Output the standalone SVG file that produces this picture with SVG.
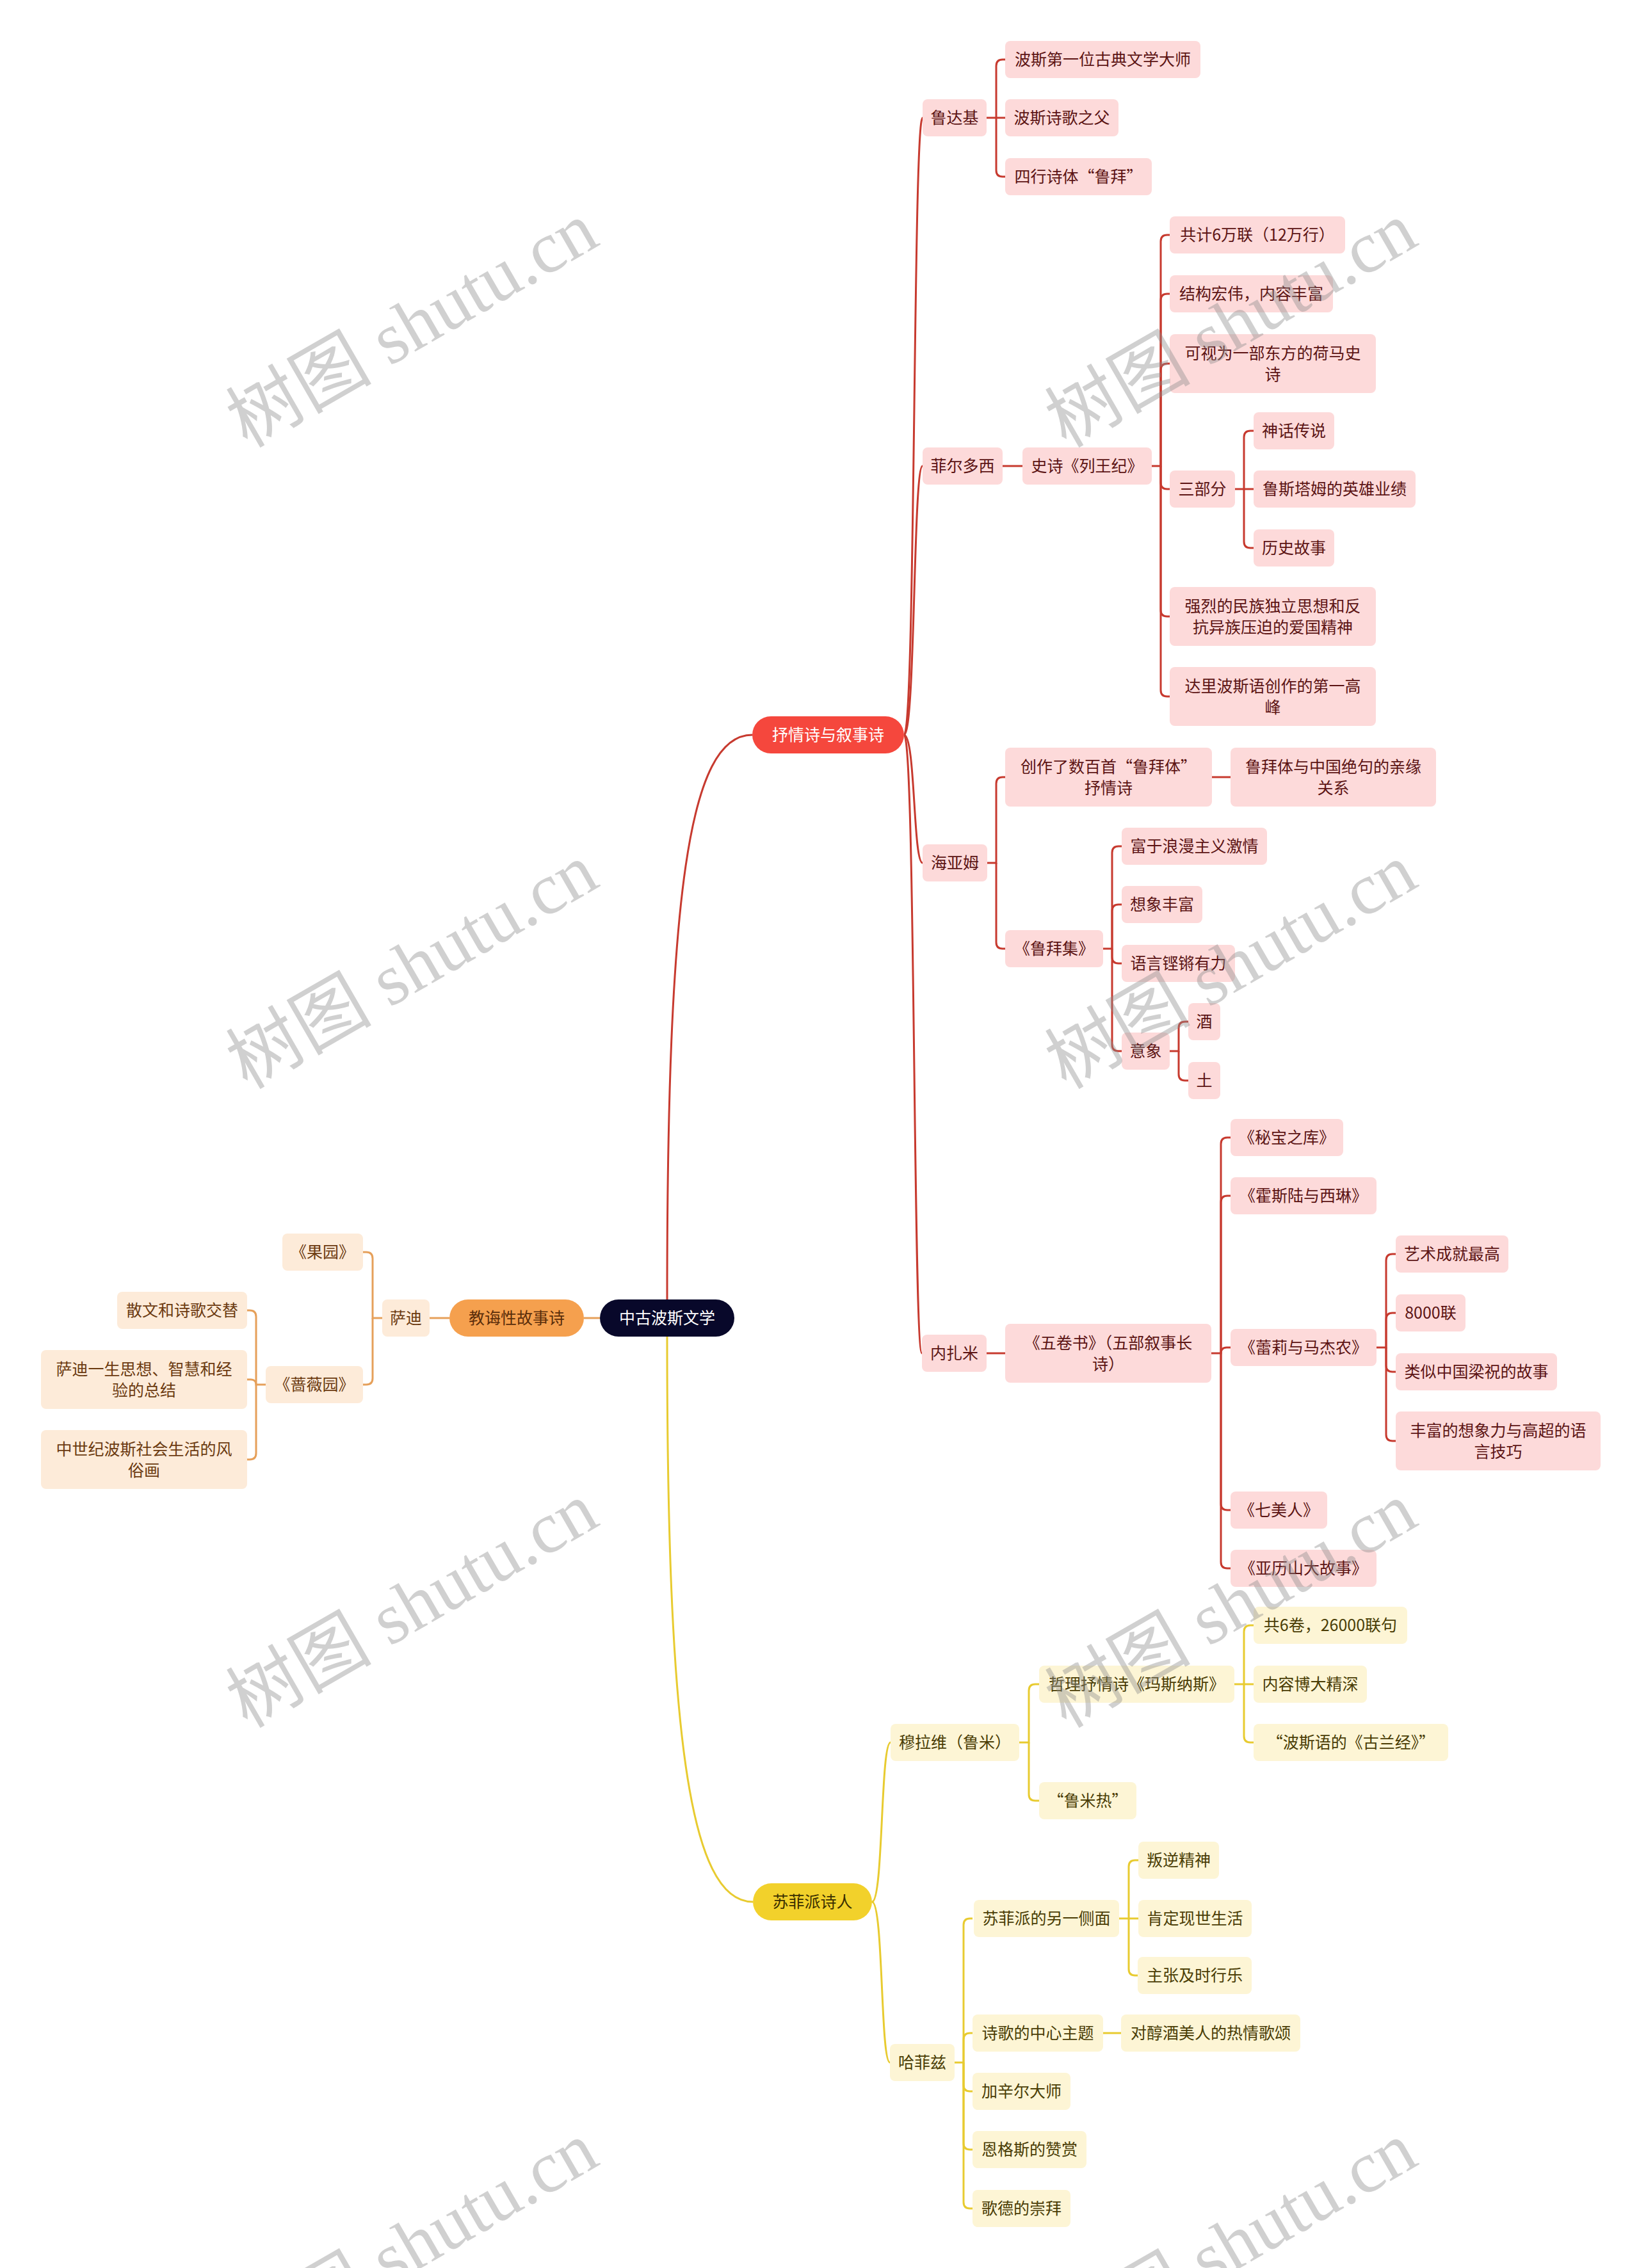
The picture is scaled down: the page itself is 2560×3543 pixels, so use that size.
<svg xmlns="http://www.w3.org/2000/svg" width="2560" height="3543" viewBox="0 0 2560 3543">
<style>
text{font-family:"Noto Sans CJK SC","Noto Sans",sans-serif;font-size:25px;text-anchor:middle}
.rn{fill:#fddada}.rt{fill:#5c1414}
.on{fill:#fdebd9}.ot{fill:#6b3a10}
.yn{fill:#fdf5d5}.yt{fill:#4a3d05}
.rl{fill:none;stroke:#c73a2f;stroke-width:3}
.ol{fill:none;stroke:#e6a05a;stroke-width:3}
.yl{fill:none;stroke:#e8cb30;stroke-width:3}
.wm{font-family:"Liberation Serif","Noto Sans CJK SC",serif;font-size:114px;fill:#8c8c8c;opacity:0.4}
</style>
<rect width="2560" height="3543" fill="#ffffff"/>
<g id="connectors">
<path class="rl" stroke-width="2.5" d="M1042,2030 C1042,1400 1075,1148 1175,1148"/>
<path class="yl" stroke-width="2.5" d="M1042,2088 C1042,2700 1075,2971 1176,2971"/>
<path class="ol" d="M937,2059 H912"/>
<path class="rl" stroke-width="2.5" d="M1412,1148 C1430,1148 1426,184 1441,184"/>
<path class="rl" stroke-width="2.5" d="M1412,1148 C1430,1148 1426,728 1441,728"/>
<path class="rl" stroke-width="2.5" d="M1412,1148 C1430,1148 1426,1348 1441,1348"/>
<path class="rl" stroke-width="2.5" d="M1412,1148 C1430,1148 1426,2114 1440,2114"/>
<path class="yl" stroke-width="2.5" d="M1362,2971 C1380,2971 1375,2722 1391,2722"/>
<path class="yl" stroke-width="2.5" d="M1362,2971 C1380,2971 1375,3222 1390,3222"/>
<path class="rl" d="M1541,184 H1570"/>
<path class="rl" d="M1556,184 V103 Q1556,93 1566,93 H1570"/>
<path class="rl" d="M1556,184 V266 Q1556,276 1566,276 H1570"/>
<path class="rl" d="M1566,728 H1597"/>
<path class="rl" d="M1799,728 H1813 V377 Q1813,367 1823,367 H1827"/>
<path class="rl" d="M1813,728 V469 Q1813,459 1823,459 H1827"/>
<path class="rl" d="M1813,728 V578 Q1813,568 1823,568 H1827"/>
<path class="rl" d="M1813,728 V754 Q1813,764 1823,764 H1827"/>
<path class="rl" d="M1813,728 V953 Q1813,963 1823,963 H1827"/>
<path class="rl" d="M1813,728 V1078 Q1813,1088 1823,1088 H1827"/>
<path class="rl" d="M1929,764 H1958"/>
<path class="rl" d="M1943,764 V683 Q1943,673 1953,673 H1958"/>
<path class="rl" d="M1943,764 V846 Q1943,856 1953,856 H1958"/>
<path class="rl" d="M1542,1348 H1556 V1224 Q1556,1214 1566,1214 H1570"/>
<path class="rl" d="M1556,1348 V1472 Q1556,1482 1566,1482 H1570"/>
<path class="rl" d="M1893,1214 H1922"/>
<path class="rl" d="M1723,1482 H1737 V1332 Q1737,1322 1747,1322 H1752"/>
<path class="rl" d="M1737,1482 V1423 Q1737,1413 1747,1413 H1752"/>
<path class="rl" d="M1737,1482 V1495 Q1737,1505 1747,1505 H1752"/>
<path class="rl" d="M1737,1482 V1632 Q1737,1642 1747,1642 H1752"/>
<path class="rl" d="M1827,1642 H1841 V1606 Q1841,1596 1851,1596 H1856"/>
<path class="rl" d="M1841,1642 V1678 Q1841,1688 1851,1688 H1856"/>
<path class="rl" d="M1541,2114 H1570"/>
<path class="rl" d="M1892,2114 H1907 V1787 Q1907,1777 1917,1777 H1922"/>
<path class="rl" d="M1907,2114 V1878 Q1907,1868 1917,1868 H1922"/>
<path class="rl" d="M1907,2114 C1907,2108 1910,2105 1916,2105 H1922"/>
<path class="rl" d="M1907,2114 V2349 Q1907,2359 1917,2359 H1922"/>
<path class="rl" d="M1907,2114 V2440 Q1907,2450 1917,2450 H1922"/>
<path class="rl" d="M2150,2105 H2165 V1969 Q2165,1959 2175,1959 H2180"/>
<path class="rl" d="M2165,2105 V2061 Q2165,2051 2175,2051 H2180"/>
<path class="rl" d="M2165,2105 V2133 Q2165,2143 2175,2143 H2180"/>
<path class="rl" d="M2165,2105 V2241 Q2165,2251 2175,2251 H2180"/>
<path class="ol" d="M702,2059 H671"/>
<path class="ol" d="M597,2059 H582 V1966 Q582,1956 572,1956 H567"/>
<path class="ol" d="M582,2059 V2153 Q582,2163 572,2163 H567"/>
<path class="ol" d="M415,2163 H400 V2057 Q400,2047 390,2047 H386"/>
<path class="ol" d="M400,2163 C400,2158 397,2155 392,2155 H386"/>
<path class="ol" d="M400,2163 V2270 Q400,2280 390,2280 H386"/>
<path class="yl" d="M1592,2722 H1607 V2641 Q1607,2631 1617,2631 H1623"/>
<path class="yl" d="M1607,2722 V2803 Q1607,2813 1617,2813 H1623"/>
<path class="yl" d="M1928,2631 H1958"/>
<path class="yl" d="M1943,2631 V2549 Q1943,2539 1953,2539 H1958"/>
<path class="yl" d="M1943,2631 V2712 Q1943,2722 1953,2722 H1958"/>
<path class="yl" d="M1491,3222 H1505 V3007 Q1505,2997 1515,2997 H1519"/>
<path class="yl" d="M1505,3222 V3186 Q1505,3176 1515,3176 H1519"/>
<path class="yl" d="M1505,3222 V3257 Q1505,3267 1515,3267 H1519"/>
<path class="yl" d="M1505,3222 V3348 Q1505,3358 1515,3358 H1519"/>
<path class="yl" d="M1505,3222 V3440 Q1505,3450 1515,3450 H1519"/>
<path class="yl" d="M1748,2997 H1778"/>
<path class="yl" d="M1763,2997 V2916 Q1763,2906 1773,2906 H1778"/>
<path class="yl" d="M1763,2997 V3076 Q1763,3086 1773,3086 H1777"/>
<path class="yl" d="M1723,3176 H1751"/>
</g>
<g id="root"><rect x="937" y="2030" width="210" height="58" rx="29" fill="#08082a"/><text x="1042" y="2068" fill="#ffffff">中古波斯文学</text></g>
<g id="b-lyric"><rect x="1175" y="1119" width="237" height="58" rx="29" fill="#f5473d"/><text x="1293.5" y="1157" fill="#ffffff">抒情诗与叙事诗</text></g>
<g id="b-didactic"><rect x="702" y="2030" width="210" height="58" rx="29" fill="#f5a04e"/><text x="807" y="2068" fill="#5a2d0a">教诲性故事诗</text></g>
<g id="b-sufi"><rect x="1176" y="2942" width="186" height="58" rx="29" fill="#f2d12b"/><text x="1269" y="2980" fill="#3a2f00">苏菲派诗人</text></g>

<g id="n-rudaki"><rect class="rn" x="1441" y="155" width="100" height="58" rx="8"/><text class="rt" x="1491" y="193">鲁达基</text></g>
<g id="n-rudaki-1"><rect class="rn" x="1570" y="64" width="305" height="58" rx="8"/><text class="rt" x="1722.5" y="102">波斯第一位古典文学大师</text></g>
<g id="n-rudaki-2"><rect class="rn" x="1570" y="155" width="177" height="58" rx="8"/><text class="rt" x="1658.5" y="193">波斯诗歌之父</text></g>
<g id="n-rudaki-3"><rect class="rn" x="1570" y="247" width="229" height="58" rx="8"/><text class="rt" x="1684.5" y="285">四行诗体“鲁拜”</text></g>
<g id="n-ferdowsi"><rect class="rn" x="1441" y="699" width="125" height="58" rx="8"/><text class="rt" x="1503.5" y="737">菲尔多西</text></g>
<g id="n-shahnameh"><rect class="rn" x="1597" y="699" width="202" height="58" rx="8"/><text class="rt" x="1698" y="737">史诗《列王纪》</text></g>
<g id="n-sh-1"><rect class="rn" x="1827" y="338" width="274" height="58" rx="8"/><text class="rt" x="1964" y="376">共计6万联（12万行）</text></g>
<g id="n-sh-2"><rect class="rn" x="1827" y="430" width="255" height="58" rx="8"/><text class="rt" x="1954.5" y="468">结构宏伟，内容丰富</text></g>
<g id="n-sh-3"><rect class="rn" x="1827" y="522" width="322" height="92" rx="8"/><text class="rt" x="1988" y="560.5">可视为一部东方的荷马史</text><text class="rt" x="1988" y="593.5">诗</text></g>
<g id="n-sh-4"><rect class="rn" x="1827" y="735" width="102" height="58" rx="8"/><text class="rt" x="1878" y="773">三部分</text></g>
<g id="n-sh-4a"><rect class="rn" x="1958" y="644" width="126" height="58" rx="8"/><text class="rt" x="2021" y="682">神话传说</text></g>
<g id="n-sh-4b"><rect class="rn" x="1958" y="735" width="253" height="58" rx="8"/><text class="rt" x="2084.5" y="773">鲁斯塔姆的英雄业绩</text></g>
<g id="n-sh-4c"><rect class="rn" x="1958" y="827" width="126" height="58" rx="8"/><text class="rt" x="2021" y="865">历史故事</text></g>
<g id="n-sh-5"><rect class="rn" x="1827" y="917" width="322" height="92" rx="8"/><text class="rt" x="1988" y="955.5">强烈的民族独立思想和反</text><text class="rt" x="1988" y="988.5">抗异族压迫的爱国精神</text></g>
<g id="n-sh-6"><rect class="rn" x="1827" y="1042" width="322" height="92" rx="8"/><text class="rt" x="1988" y="1080.5">达里波斯语创作的第一高</text><text class="rt" x="1988" y="1113.5">峰</text></g>
<g id="n-khayyam"><rect class="rn" x="1441" y="1319" width="101" height="58" rx="8"/><text class="rt" x="1491.5" y="1357">海亚姆</text></g>
<g id="n-kh-1"><rect class="rn" x="1570" y="1168" width="323" height="92" rx="8"/><text class="rt" x="1731.5" y="1206.5">创作了数百首“鲁拜体”</text><text class="rt" x="1731.5" y="1239.5">抒情诗</text></g>
<g id="n-kh-1a"><rect class="rn" x="1922" y="1168" width="321" height="92" rx="8"/><text class="rt" x="2082.5" y="1206.5">鲁拜体与中国绝句的亲缘</text><text class="rt" x="2082.5" y="1239.5">关系</text></g>
<g id="n-kh-2"><rect class="rn" x="1570" y="1453" width="153" height="58" rx="8"/><text class="rt" x="1646.5" y="1491">《鲁拜集》</text></g>
<g id="n-kh-2a"><rect class="rn" x="1752" y="1293" width="227" height="58" rx="8"/><text class="rt" x="1865.5" y="1331">富于浪漫主义激情</text></g>
<g id="n-kh-2b"><rect class="rn" x="1752" y="1384" width="126" height="58" rx="8"/><text class="rt" x="1815" y="1422">想象丰富</text></g>
<g id="n-kh-2c"><rect class="rn" x="1752" y="1476" width="177" height="58" rx="8"/><text class="rt" x="1840.5" y="1514">语言铿锵有力</text></g>
<g id="n-kh-2d"><rect class="rn" x="1752" y="1613" width="75" height="58" rx="8"/><text class="rt" x="1789.5" y="1651">意象</text></g>
<g id="n-kh-2d1"><rect class="rn" x="1856" y="1567" width="50" height="58" rx="8"/><text class="rt" x="1881" y="1605">酒</text></g>
<g id="n-kh-2d2"><rect class="rn" x="1856" y="1659" width="50" height="58" rx="8"/><text class="rt" x="1881" y="1697">土</text></g>
<g id="n-nezami"><rect class="rn" x="1440" y="2085" width="101" height="58" rx="8"/><text class="rt" x="1490.5" y="2123">内扎米</text></g>
<g id="n-khamsa"><rect class="rn" x="1570" y="2068" width="322" height="92" rx="8"/><text class="rt" x="1731" y="2106.5">《五卷书》（五部叙事长</text><text class="rt" x="1731" y="2139.5">诗）</text></g>
<g id="n-kha-1"><rect class="rn" x="1922" y="1748" width="176" height="58" rx="8"/><text class="rt" x="2010" y="1786">《秘宝之库》</text></g>
<g id="n-kha-2"><rect class="rn" x="1922" y="1839" width="228" height="58" rx="8"/><text class="rt" x="2036" y="1877">《霍斯陆与西琳》</text></g>
<g id="n-kha-3"><rect class="rn" x="1922" y="2076" width="228" height="58" rx="8"/><text class="rt" x="2036" y="2114">《蕾莉与马杰农》</text></g>
<g id="n-kha-3a"><rect class="rn" x="2180" y="1930" width="176" height="58" rx="8"/><text class="rt" x="2268" y="1968">艺术成就最高</text></g>
<g id="n-kha-3b"><rect class="rn" x="2180" y="2022" width="109" height="58" rx="8"/><text class="rt" x="2234.5" y="2060">8000联</text></g>
<g id="n-kha-3c"><rect class="rn" x="2180" y="2114" width="252" height="58" rx="8"/><text class="rt" x="2306" y="2152">类似中国梁祝的故事</text></g>
<g id="n-kha-3d"><rect class="rn" x="2180" y="2205" width="320" height="92" rx="8"/><text class="rt" x="2340" y="2243.5">丰富的想象力与高超的语</text><text class="rt" x="2340" y="2276.5">言技巧</text></g>
<g id="n-kha-4"><rect class="rn" x="1922" y="2330" width="151" height="58" rx="8"/><text class="rt" x="1997.5" y="2368">《七美人》</text></g>
<g id="n-kha-5"><rect class="rn" x="1922" y="2421" width="228" height="58" rx="8"/><text class="rt" x="2036" y="2459">《亚历山大故事》</text></g>

<g id="n-saadi"><rect class="on" x="597" y="2030" width="74" height="58" rx="8"/><text class="ot" x="634" y="2068">萨迪</text></g>
<g id="n-bustan"><rect class="on" x="441" y="1927" width="126" height="58" rx="8"/><text class="ot" x="504" y="1965">《果园》</text></g>
<g id="n-gulistan"><rect class="on" x="415" y="2134" width="152" height="58" rx="8"/><text class="ot" x="491" y="2172">《蔷薇园》</text></g>
<g id="n-gul-1"><rect class="on" x="183" y="2018" width="203" height="58" rx="8"/><text class="ot" x="284.5" y="2056">散文和诗歌交替</text></g>
<g id="n-gul-2"><rect class="on" x="64" y="2109" width="322" height="92" rx="8"/><text class="ot" x="225" y="2147.5">萨迪一生思想、智慧和经</text><text class="ot" x="225" y="2180.5">验的总结</text></g>
<g id="n-gul-3"><rect class="on" x="64" y="2234" width="322" height="92" rx="8"/><text class="ot" x="225" y="2272.5">中世纪波斯社会生活的风</text><text class="ot" x="225" y="2305.5">俗画</text></g>

<g id="n-rumi"><rect class="yn" x="1391" y="2693" width="201" height="58" rx="8"/><text class="yt" x="1491.5" y="2731">穆拉维（鲁米）</text></g>
<g id="n-masnavi"><rect class="yn" x="1623" y="2602" width="305" height="58" rx="8"/><text class="yt" x="1775.5" y="2640">哲理抒情诗《玛斯纳斯》</text></g>
<g id="n-mas-1"><rect class="yn" x="1958" y="2510" width="240" height="58" rx="8"/><text class="yt" x="2078" y="2548">共6卷，26000联句</text></g>
<g id="n-mas-2"><rect class="yn" x="1958" y="2602" width="177" height="58" rx="8"/><text class="yt" x="2046.5" y="2640">内容博大精深</text></g>
<g id="n-mas-3"><rect class="yn" x="1958" y="2693" width="304" height="58" rx="8"/><text class="yt" x="2110" y="2731">“波斯语的《古兰经》”</text></g>
<g id="n-rumi-fever"><rect class="yn" x="1623" y="2784" width="152" height="58" rx="8"/><text class="yt" x="1699" y="2822">“鲁米热”</text></g>
<g id="n-hafez"><rect class="yn" x="1390" y="3193" width="101" height="58" rx="8"/><text class="yt" x="1440.5" y="3231">哈菲兹</text></g>
<g id="n-haf-1"><rect class="yn" x="1521" y="2968" width="227" height="58" rx="8"/><text class="yt" x="1634.5" y="3006">苏菲派的另一侧面</text></g>
<g id="n-haf-1a"><rect class="yn" x="1778" y="2877" width="126" height="58" rx="8"/><text class="yt" x="1841" y="2915">叛逆精神</text></g>
<g id="n-haf-1b"><rect class="yn" x="1778" y="2968" width="177" height="58" rx="8"/><text class="yt" x="1866.5" y="3006">肯定现世生活</text></g>
<g id="n-haf-1c"><rect class="yn" x="1777" y="3057" width="178" height="58" rx="8"/><text class="yt" x="1866" y="3095">主张及时行乐</text></g>
<g id="n-haf-2"><rect class="yn" x="1519" y="3147" width="204" height="58" rx="8"/><text class="yt" x="1621" y="3185">诗歌的中心主题</text></g>
<g id="n-haf-2a"><rect class="yn" x="1751" y="3147" width="280" height="58" rx="8"/><text class="yt" x="1891" y="3185">对醇酒美人的热情歌颂</text></g>
<g id="n-haf-3"><rect class="yn" x="1519" y="3238" width="153" height="58" rx="8"/><text class="yt" x="1595.5" y="3276">加辛尔大师</text></g>
<g id="n-haf-4"><rect class="yn" x="1519" y="3329" width="178" height="58" rx="8"/><text class="yt" x="1608" y="3367">恩格斯的赞赏</text></g>
<g id="n-haf-5"><rect class="yn" x="1519" y="3421" width="153" height="58" rx="8"/><text class="yt" x="1595.5" y="3459">歌德的崇拜</text></g>

<g id="watermark">
<text class="wm" transform="translate(644,508) rotate(-30)" y="38">树图 shutu.cn</text>
<text class="wm" transform="translate(1923,508) rotate(-30)" y="38">树图 shutu.cn</text>
<text class="wm" transform="translate(644,1510) rotate(-30)" y="38">树图 shutu.cn</text>
<text class="wm" transform="translate(1923,1510) rotate(-30)" y="38">树图 shutu.cn</text>
<text class="wm" transform="translate(644,2508) rotate(-30)" y="38">树图 shutu.cn</text>
<text class="wm" transform="translate(1923,2508) rotate(-30)" y="38">树图 shutu.cn</text>
<text class="wm" transform="translate(644,3507) rotate(-30)" y="38">树图 shutu.cn</text>
<text class="wm" transform="translate(1923,3507) rotate(-30)" y="38">树图 shutu.cn</text>
</g>
</svg>
